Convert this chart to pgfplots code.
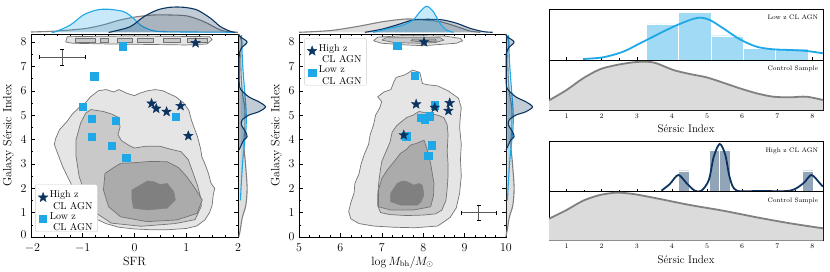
\documentclass[border=0pt]{standalone}
\usepackage{pgfplots}
\pgfplotsset{compat=1.18}
\usepackage{pgfplotstable}
\definecolor{lblue}{RGB}{31,168,232}
\definecolor{dblue}{RGB}{12,52,97}
\definecolor{cA}{gray}{0.90}
\definecolor{cB}{gray}{0.79}
\definecolor{cC}{gray}{0.67}
\definecolor{cD}{gray}{0.50}
\definecolor{cE}{gray}{0.45}
\definecolor{ctrlline}{gray}{0.50}
\definecolor{ctrlfill}{gray}{0.86}

\pgfdeclareplotmark{fstar}{%
 \pgfpathmoveto{\pgfpointpolar{90}{\pgfplotmarksize}}%
 \pgfpathlineto{\pgfpointpolar{126}{0.42*\pgfplotmarksize}}%
 \pgfpathlineto{\pgfpointpolar{162}{\pgfplotmarksize}}%
 \pgfpathlineto{\pgfpointpolar{198}{0.42*\pgfplotmarksize}}%
 \pgfpathlineto{\pgfpointpolar{234}{\pgfplotmarksize}}%
 \pgfpathlineto{\pgfpointpolar{270}{0.42*\pgfplotmarksize}}%
 \pgfpathlineto{\pgfpointpolar{306}{\pgfplotmarksize}}%
 \pgfpathlineto{\pgfpointpolar{342}{0.42*\pgfplotmarksize}}%
 \pgfpathlineto{\pgfpointpolar{18}{\pgfplotmarksize}}%
 \pgfpathlineto{\pgfpointpolar{54}{0.42*\pgfplotmarksize}}%
 \pgfpathclose
 \pgfusepathqfillstroke}

% ---------- marginal data ----------
\pgfplotstableread{
x h
-2.0 0.3
-1.6 1
-1.2 2.5
-0.92 4
-0.6 7.5
-0.28 12.3
0.05 15.6
0.37 17.3
0.69 17.3
1.02 16.3
1.34 10.7
1.66 2.3
1.86 0.3
2.0 0
}\tTopOneC
\pgfplotstableread{
x h
-1.6 0
-1.53 0.5
-1.24 7.3
-0.99 17.3
-0.73 22.3
-0.5 23
-0.21 20.7
-0.02 14
0.11 7.3
0.31 2.3
0.5 0.7
1.0 0.3
1.6 0.2
1.9 0
}\tTopOneL
\pgfplotstableread{
x h
-0.5 0
-0.44 0.5
-0.08 5.7
0.18 15.6
0.44 22.3
0.69 25
0.95 25
1.21 22.3
1.47 14
1.66 5.7
1.85 1
1.95 0
}\tTopOneH
\pgfplotstableread{
x h
5.0 0
5.75 1.7
6.4 5.7
7.05 10.7
7.61 13.3
8.02 12.3
8.42 10.7
8.83 5.7
9.15 1.3
9.4 0
}\tTopTwoC
\pgfplotstableread{
x h
6.8 0
7.21 4
7.53 7.3
7.77 12.3
7.94 20.7
8.1 26
8.26 20.7
8.42 9
8.58 2.3
8.75 0
}\tTopTwoL
\pgfplotstableread{
x h
6.6 0
7.0 3
7.37 7.3
7.77 12.3
8.18 13
8.5 12.3
8.83 9
9.15 4
9.47 0.7
9.7 0
}\tTopTwoH
\pgfplotstableread{
w n
0 8.33
3 8.0
2 7.5
2.5 6.5
4 5.8
6 5.3
6 4.5
5 3.8
6.7 3.0
8.3 2.0
7 1.3
3.5 0.8
1.5 0.3
0 0
}\tRightC
\pgfplotstableread{
w n
2.7 8.28
3.3 7.6
4 6.98
6 5.89
7.3 5.2
7.3 4.51
6 3.96
4 3.14
2.3 2.05
1.7 1.5
}\tRightL
\pgfplotstableread{
w n
0 8.3
2 8.2
8.3 8.0
3 7.77
0.7 7.56
0.3 7.2
0.3 6.5
0.5 6.28
1.7 6.07
10 5.75
20 5.55
26.7 5.34
20 5.14
10 5.0
3.3 4.8
2.7 4.59
6.7 4.32
8.3 4.11
5 3.98
1.7 3.7
0.3 3.57
}\tRightH
% ---------- KDE panels ----------
\pgfplotstableread{
x h
1.47 1
2.04 2.7
2.61 8.3
3.09 16.7
3.56 25
4.04 33.3
4.51 40
4.8 42.3
5.08 40
5.46 31.7
5.93 20.7
6.41 13.3
6.88 10.7
7.36 10
7.83 9
8.3 6.7
}\tKdeLow
\pgfplotstableread{
x h
0.5 9.6
1.0 20
1.47 31.7
1.95 40.7
2.42 45
2.9 47.7
3.28 48.3
3.56 46.7
4.04 40
4.51 36
4.98 32.7
5.46 27.3
5.93 21.7
6.41 16.7
6.88 13.3
7.36 12.7
7.83 13.3
8.3 10
}\tKdeCtrlA
\pgfplotstableread{
x h
3.7 1
3.94 7.7
4.18 16.7
4.42 8.4
4.65 1
4.84 1
5.05 11.7
5.19 35
5.36 47.7
5.52 36.7
5.65 13.4
5.84 1.2
6.5 0.8
7.36 1
7.74 8.4
7.97 16.7
8.21 8.4
8.3 5
}\tKdeHigh
\pgfplotstableread{
x h
0.5 22
1.0 30.7
1.47 40
1.95 45.7
2.42 48
2.9 46.7
3.56 42.4
4.51 35.7
5.46 30
6.41 23.4
7.36 17.4
8.3 12.4
}\tKdeCtrlB

\pgfplotsset{
  mainax/.style={scale only axis, anchor=south west, width=207pt, height=203pt,
    ymin=0, ymax=8.33, ytick={0,1,...,8}, minor y tick num=1, minor x tick num=3,
    tick align=inside, axis line style={line width=0.9pt},
    major tick length=4pt, minor tick length=2pt,
    tick style={black, line width=0.5pt},
    tick label style={font=\fontsize{12}{13}\selectfont},
    xticklabel style={yshift=-3pt},
    yticklabel style={xshift=-1pt},
    label style={font=\fontsize{12}{14}\selectfont},
    xlabel style={yshift=2pt},
    ylabel={Galaxy Sérsic Index},
    legend cell align=left, reverse legend,
    legend style={font=\fontsize{10}{11.5}\selectfont, draw=black!20, rounded corners=2pt, inner sep=3pt, row sep=2pt},
  },
  margax/.style={scale only axis, anchor=south west, hide axis, clip=false},
  kdeax/.style={scale only axis, anchor=south west, width=274pt, xmin=0.5, xmax=8.3, ymin=0,
    xtick={1,...,8}, minor x tick num=1, ytick=\empty, xtick pos=left, tick align=inside,
    axis line style={line width=0.9pt}, major tick length=3pt, minor tick length=1.8pt,
    tick style={black, line width=0.5pt},
    tick label style={font=\fontsize{7}{8}\selectfont}, label style={font=\fontsize{11}{12}\selectfont}},
  cont/.style={draw=cE, line width=0.7pt, forget plot},
  ebar/.style={draw=none, mark=none, forget plot, error bars/.cd, x dir=both, x explicit, y dir=both, y explicit,
    error bar style={draw=black!65, line width=0.6pt}},
}

\begin{document}
\begin{tikzpicture}
\useasboundingbox (0,0) rectangle (830pt,271pt);

% ================= Panel 1 =================
\begin{axis}[mainax, at={(31pt,34pt)}, xmin=-2, xmax=2, xtick={-2,-1,0,1,2}, xlabel={SFR},
  xticklabels={\hspace{3pt}$-2$,$-1$,$0$,$1$,$2$},
  yticklabels={\raisebox{4pt}{$0$},$1$,$2$,$3$,$4$,$5$,$6$,$7$,$8$},
  legend style={at={(0.02,0.025)}, anchor=south west}]
\addplot[cont, fill=cA] coordinates {(-1.52,4.06)(-1.45,4.4)(-1.3,4.75)(-1.2,5.05)(-1.05,5.35)(-0.95,5.5)(-0.85,5.75)(-0.7,6.0)(-0.55,6.05)(-0.4,5.95)(-0.3,6.05)(-0.15,5.9)(0.0,5.8)(0.1,5.9)(0.25,6.0)(0.4,6.05)(0.55,6.0)(0.7,5.85)(0.8,5.75)(0.95,5.5)(1.05,5.2)(1.1,4.8)(1.15,4.5)(1.22,4.1)(1.28,3.6)(1.3,3.3)(1.38,2.9)(1.43,2.6)(1.48,2.2)(1.55,2.0)(1.52,1.7)(1.5,1.3)(1.45,1.0)(1.36,0.7)(1.2,0.45)(1.0,0.35)(0.65,0.3)(0.3,0.3)(0.0,0.33)(-0.3,0.4)(-0.55,0.55)(-0.72,0.72)(-0.85,0.95)(-0.97,1.25)(-1.08,1.65)(-1.2,2.08)(-1.3,2.5)(-1.39,2.9)(-1.48,3.4)(-1.55,3.8)(-1.52,4.06)};
\addplot[cont, fill=cB] coordinates {(-0.84,5.23)(-0.6,5.15)(-0.45,5.05)(-0.3,4.9)(-0.28,4.5)(-0.32,4.2)(-0.25,3.95)(-0.1,3.75)(0.0,3.65)(0.2,3.72)(0.5,3.72)(0.7,3.6)(0.9,3.5)(1.04,3.17)(1.12,2.7)(1.22,2.1)(1.28,1.6)(1.29,1.26)(1.17,0.71)(0.78,0.55)(0.13,0.44)(-0.45,0.57)(-0.74,0.98)(-0.94,1.67)(-1.07,2.49)(-1.13,3.31)(-1.13,3.99)(-1.04,4.68)(-0.94,5.09)(-0.84,5.23)};
\addplot[cont, fill=cC] coordinates {(-0.57,2.61)(-0.4,2.85)(-0.27,3.02)(0.0,3.05)(0.3,3.1)(0.63,3.09)(0.85,2.85)(1.0,2.5)(1.15,2.06)(1.31,1.52)(1.21,0.97)(0.82,0.70)(0.24,0.63)(-0.27,0.83)(-0.5,1.24)(-0.6,1.93)(-0.57,2.61)};
\addplot[draw=cD, fill=cD, forget plot] coordinates {(-0.05,1.93)(0.11,2.13)(0.25,2.3)(0.37,2.27)(0.5,2.15)(0.63,2.2)(0.76,1.86)(0.79,1.52)(0.63,1.18)(0.24,1.11)(-0.02,1.18)(-0.05,1.52)(-0.05,1.93)};
% top band at n = 8
\addplot[cont, fill=cA] coordinates {(-1.33,8.0)(-1.3,8.22)(0,8.25)(1.45,8.22)(1.5,8.1)(1.4,7.92)(1.0,7.88)(0.3,7.9)(-0.5,7.92)(-1.2,7.95)(-1.33,8.0)};
\addplot[cont, fill=cB] coordinates {(-1.15,7.99)(-1.15,8.15)(-0.76,8.15)(-0.76,7.99)(-1.15,7.99)};
\addplot[cont, fill=cB] coordinates {(-0.66,7.99)(-0.66,8.15)(-0.5,8.15)(-0.5,7.99)(-0.66,7.99)};
\addplot[cont, fill=cB] coordinates {(-0.34,7.99)(-0.34,8.15)(-0.05,8.15)(-0.05,7.99)(-0.34,7.99)};
\addplot[cont, fill=cB] coordinates {(0.05,7.99)(0.05,8.15)(0.37,8.15)(0.37,7.99)(0.05,7.99)};
\addplot[cont, fill=cB] coordinates {(0.56,7.99)(0.56,8.15)(0.89,8.15)(0.89,7.99)(0.56,7.99)};
\addplot[cont, fill=cB] coordinates {(1.02,7.99)(1.02,8.15)(1.4,8.15)(1.4,7.99)(1.02,7.99)};
% error bar
\addplot[ebar] coordinates {(-1.4,7.39) +- (0.45,0.33)};
% points
\addplot[only marks, mark=square*, mark size=3.6pt, color=lblue, mark options={draw=lblue, fill=lblue}]
  coordinates {(-0.23,7.83)(-0.78,6.6)(-1.0,5.36)(-0.82,4.86)(-0.37,4.77)(-0.82,4.11)(-0.44,3.76)(-0.16,3.27)(0.79,4.93)};
\addlegendentry{\begin{tabular}{@{}l@{}}Low z\\ \ CL AGN\end{tabular}}
\addplot[only marks, mark=fstar, mark size=5pt, color=dblue, mark options={draw=dblue, fill=dblue}]
  coordinates {(0.33,5.48)(0.42,5.27)(0.62,5.14)(0.89,5.38)(1.04,4.15)(1.18,7.96)};
\addlegendentry{\begin{tabular}{@{}l@{}}High z\\ \ CL AGN\end{tabular}}
\end{axis}

\begin{axis}[margax, at={(31pt,237pt)}, width=207pt, height=30pt, xmin=-2, xmax=2, ymin=-1.7, ymax=28.3]
\addplot[ctrlline, line width=1.1pt, fill=ctrlline, fill opacity=0.25, smooth] table[x=x,y=h] {\tTopOneC};
\addplot[lblue, line width=1.1pt, fill=lblue, fill opacity=0.25, smooth] table[x=x,y=h] {\tTopOneL};
\addplot[dblue, line width=1.1pt, fill=dblue, fill opacity=0.25, smooth] table[x=x,y=h] {\tTopOneH};
\end{axis}

\begin{axis}[margax, at={(238pt,34pt)}, width=32pt, height=203pt, xmin=-0.8, xmax=31.2, ymin=0, ymax=8.33]
\addplot[ctrlline, line width=1.1pt, fill=ctrlline, fill opacity=0.25, smooth] table[x=w,y=n] {\tRightC};
\addplot[lblue, line width=1.1pt, fill=lblue, fill opacity=0.2, smooth] table[x=w,y=n] {\tRightL};
\addplot[dblue, line width=1.1pt, fill=dblue, fill opacity=0.25, smooth] table[x=w,y=n] {\tRightH};
\end{axis}

% ================= Panel 2 =================
\begin{axis}[mainax, at={(299pt,34pt)}, xmin=5, xmax=10, xtick={5,6,7,8,9,10}, xlabel={$\log M_{\mathrm{bh}}/M_{\odot}$},
  legend style={at={(0.025,0.98)}, anchor=north west}]
\addplot[cont, fill=cA] coordinates {(7.35,6.55)(7.3,6.4)(7.22,6.05)(7.05,5.95)(6.9,5.75)(7.0,5.55)(6.95,5.3)(6.85,5.0)(6.8,4.6)(6.72,4.2)(6.68,3.8)(6.58,3.4)(6.5,3.0)(6.45,2.6)(6.35,2.2)(6.33,1.8)(6.25,1.4)(6.2,1.05)(6.25,0.75)(6.45,0.55)(6.8,0.45)(7.3,0.4)(7.8,0.38)(8.35,0.45)(8.65,0.8)(8.8,1.2)(8.88,1.8)(8.92,2.5)(8.9,3.2)(8.92,3.8)(8.88,4.5)(8.9,5.0)(8.92,5.3)(8.85,5.7)(8.6,6.0)(8.35,6.2)(8.1,6.25)(7.98,6.3)(7.92,6.75)(7.75,6.85)(7.55,6.65)(7.35,6.55)};
\addplot[cont, fill=cB] coordinates {(7.45,4.7)(7.6,4.9)(7.75,5.0)(7.9,5.15)(8.05,5.1)(8.2,5.05)(8.35,5.0)(8.5,4.9)(8.58,4.6)(8.6,4.2)(8.58,3.5)(8.6,3.0)(8.6,2.5)(8.58,2.0)(8.55,1.5)(8.45,1.1)(8.3,0.95)(8.0,0.9)(7.6,0.88)(7.2,0.92)(6.97,1.0)(6.9,1.3)(6.9,1.7)(6.93,2.3)(6.97,2.8)(7.0,3.1)(7.1,3.5)(7.2,3.9)(7.25,4.3)(7.35,4.55)(7.45,4.7)};
\addplot[cont, fill=cC] coordinates {(7.69,3.77)(7.85,3.85)(8.02,3.97)(8.1,3.57)(8.18,3.02)(8.22,2.6)(8.26,2.2)(8.25,1.7)(8.18,1.24)(7.77,1.11)(7.21,1.11)(6.92,1.24)(6.92,1.93)(7.0,2.4)(7.13,2.75)(7.3,3.1)(7.45,3.43)(7.6,3.6)(7.69,3.77)};
\addplot[draw=cD, fill=cD, forget plot] coordinates {(7.37,2.2)(7.5,2.3)(7.61,2.27)(7.77,2.13)(7.9,2.2)(7.98,2.13)(8.02,1.72)(7.95,1.45)(7.86,1.31)(7.45,1.31)(7.21,1.45)(7.21,1.79)(7.37,2.2)};
\addplot[cont, fill=cA] coordinates {(6.8,8.05)(6.9,8.2)(7.5,8.26)(8.5,8.25)(8.9,8.15)(8.95,8.05)(8.8,7.95)(8.4,7.9)(8.0,7.85)(7.6,7.88)(7.0,7.95)(6.8,8.05)};
\addplot[cont, fill=cB] coordinates {(7.0,8.08)(7.1,8.18)(8.4,8.18)(8.5,8.08)(8.3,7.98)(7.9,7.95)(7.3,7.98)(7.0,8.08)};
\addplot[cont, fill=cC] coordinates {(7.7,8.05)(7.75,8.12)(8.3,8.12)(8.32,8.04)(8.0,8.0)(7.7,8.05)};
\addplot[ebar] coordinates {(9.34,1.0) +- (0.42,0.3)};
\addplot[only marks, mark=square*, mark size=3.6pt, color=lblue, mark options={draw=lblue, fill=lblue}]
  coordinates {(7.37,7.84)(7.80,6.61)(8.28,5.41)(8.16,4.96)(7.95,4.89)(8.03,4.80)(7.59,4.14)(8.20,3.77)(8.12,3.32)};
\addlegendentry{\begin{tabular}{@{}l@{}}Low z\\ \ CL AGN\end{tabular}}
\addplot[only marks, mark=fstar, mark size=5pt, color=dblue, mark options={draw=dblue, fill=dblue}]
  coordinates {(8.02,8.0)(7.83,5.45)(8.28,5.31)(8.64,5.5)(8.61,5.18)(7.53,4.18)};
\addlegendentry{\begin{tabular}{@{}l@{}}High z\\ \ CL AGN\end{tabular}}
\end{axis}

\begin{axis}[margax, at={(299pt,237pt)}, width=206pt, height=30pt, xmin=5, xmax=10, ymin=-1.7, ymax=28.3]
\addplot[ctrlline, line width=1.1pt, fill=ctrlline, fill opacity=0.25, smooth] table[x=x,y=h] {\tTopTwoC};
\addplot[dblue, line width=1.1pt, fill=dblue, fill opacity=0.25, smooth] table[x=x,y=h] {\tTopTwoH};
\addplot[lblue, line width=1.1pt, fill=lblue, fill opacity=0.25, smooth] table[x=x,y=h] {\tTopTwoL};
\end{axis}

\begin{axis}[margax, at={(505pt,34pt)}, width=32pt, height=203pt, xmin=-0.8, xmax=31.2, ymin=0, ymax=8.33]
\addplot[ctrlline, line width=1.1pt, fill=ctrlline, fill opacity=0.25, smooth] table[x=w,y=n] {\tRightC};
\addplot[lblue, line width=1.1pt, fill=lblue, fill opacity=0.2, smooth] table[x=w,y=n] {\tRightL};
\addplot[dblue, line width=1.1pt, fill=dblue, fill opacity=0.25, smooth] table[x=w,y=n] {\tRightH};
\end{axis}

% ================= Panel 3 (Low z) =================
\begin{axis}[kdeax, at={(549pt,211pt)}, height=51pt, ymax=51, xticklabels={}]
\addplot[fill=lblue!42, draw=white, line width=0.3pt] coordinates {(3.27,0)(3.27,36)(4.19,36)(4.19,0)(3.27,0)};
\addplot[fill=lblue!42, draw=white, line width=0.3pt] coordinates {(4.19,0)(4.19,47.7)(5.11,47.7)(5.11,0)(4.19,0)};
\addplot[fill=lblue!42, draw=white, line width=0.3pt] coordinates {(5.11,0)(5.11,24.3)(6.03,24.3)(6.03,0)(5.11,0)};
\addplot[fill=lblue!42, draw=white, line width=0.3pt] coordinates {(6.03,0)(6.03,11.7)(6.95,11.7)(6.95,0)(6.03,0)};
\addplot[fill=lblue!42, draw=white, line width=0.3pt] coordinates {(6.95,0)(6.95,11.7)(7.87,11.7)(7.87,0)(6.95,0)};
\addplot[lblue, line width=1.8pt, smooth] table[x=x,y=h] {\tKdeLow};
\node[anchor=north east, font=\fontsize{6.5}{7}\selectfont] at (rel axis cs:0.995,0.95) {Low z CL AGN};
\end{axis}
\begin{axis}[kdeax, at={(549pt,161pt)}, height=50pt, ymax=50, xlabel={Sérsic Index}]
\addplot[fill=ctrlfill, draw=none] table[x=x,y=h] {\tKdeCtrlA} \closedcycle;
\addplot[ctrlline, line width=1.8pt, smooth] table[x=x,y=h] {\tKdeCtrlA};
\node[anchor=north east, font=\fontsize{6.5}{7}\selectfont] at (rel axis cs:0.995,0.95) {Control Sample};
\end{axis}

% ================= Panel 4 (High z) =================
\begin{axis}[kdeax, at={(549pt,79.3pt)}, height=50pt, ymax=50, xticklabels={}]
\addplot[fill=dblue!45, draw=white, line width=0.3pt] coordinates {(4.18,0)(4.18,21)(4.49,21)(4.49,0)(4.18,0)};
\addplot[fill=dblue!45, draw=white, line width=0.3pt] coordinates {(5.06,0)(5.06,41.7)(5.35,41.7)(5.35,0)(5.06,0)};
\addplot[fill=dblue!45, draw=white, line width=0.3pt] coordinates {(5.35,0)(5.35,41.7)(5.65,41.7)(5.65,0)(5.35,0)};
\addplot[fill=dblue!45, draw=white, line width=0.3pt] coordinates {(7.72,0)(7.72,21)(8.01,21)(8.01,0)(7.72,0)};
\addplot[dblue, line width=1.8pt, smooth] table[x=x,y=h] {\tKdeHigh};
\node[anchor=north east, font=\fontsize{6.5}{7}\selectfont] at (rel axis cs:0.995,0.95) {High z CL AGN};
\end{axis}
\begin{axis}[kdeax, at={(549pt,30.3pt)}, height=49pt, ymax=49, xlabel={Sérsic Index}]
\addplot[fill=ctrlfill, draw=none] table[x=x,y=h] {\tKdeCtrlB} \closedcycle;
\addplot[ctrlline, line width=1.8pt, smooth] table[x=x,y=h] {\tKdeCtrlB};
\node[anchor=north east, font=\fontsize{6.5}{7}\selectfont] at (rel axis cs:0.995,0.95) {Control Sample};
\end{axis}
\end{tikzpicture}
\end{document}
